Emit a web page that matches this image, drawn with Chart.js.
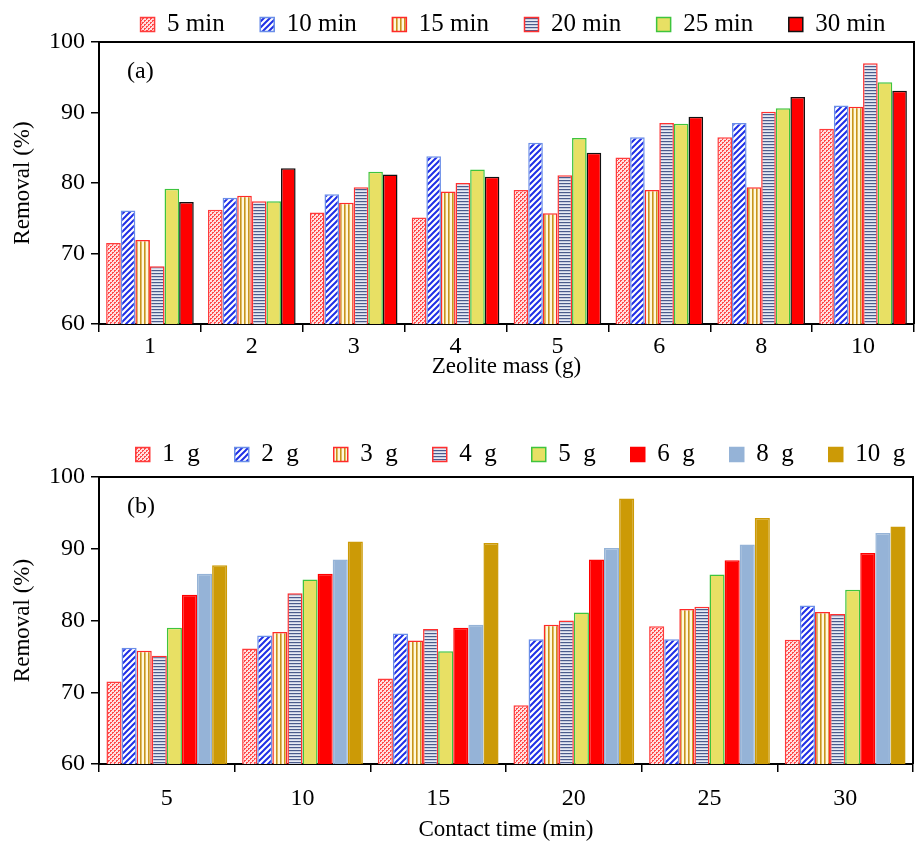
<!DOCTYPE html>
<html>
<head>
<meta charset="utf-8">
<script src="https://cdn.jsdelivr.net/npm/chart.js@4.4.1/dist/chart.umd.min.js"></script>
<style>
  html, body { margin: 0; padding: 0; background: #fff; }
  body { width: 917px; height: 845px; position: relative; overflow: hidden; }
  canvas { position: absolute; left: 0; }
  #ca { top: 0; }
  #cb { top: 420px; }
</style>
</head>
<body>
<canvas id="ca" width="917" height="386"></canvas>
<canvas id="cb" width="917" height="425"></canvas>
<script>
// ---- Data (Removal %) ----
const masses = ['1', '2', '3', '4', '5', '6', '8', '10'];          // zeolite mass (g)
const times  = ['5', '10', '15', '20', '25', '30'];                 // contact time (min)
const timeLabels = ['5 min', '10 min', '15 min', '20 min', '25 min', '30 min'];
const massLabels = ['1  g', '2  g', '3  g', '4  g', '5  g', '6  g', '8  g', '10  g'];
const yTicks = [60, 70, 80, 90, 100];

const r5min  = [71.5, 76.2, 75.8, 75.1, 79.0, 83.6, 86.5, 87.7];
const r10min = [76.1, 77.9, 78.4, 83.8, 85.7, 86.5, 88.5, 91.0];
const r15min = [71.9, 78.2, 77.2, 78.8, 75.7, 79.0, 79.4, 90.8];
const r20min = [68.2, 77.4, 79.4, 80.0, 81.1, 88.5, 90.1, 97.0];
const r25min = [79.2, 77.4, 81.6, 81.9, 86.4, 88.4, 90.6, 94.3];
const r30min = [77.3, 82.1, 81.2, 80.9, 84.3, 89.4, 92.2, 93.1];

const byTime = [r5min, r10min, r15min, r20min, r25min, r30min];
// panel (b): the same measurements grouped by contact time
const byMass = masses.map((m, i) => byTime.map(row => row[i]));

// ---- Fills ----
const FONT = '"Liberation Serif", "Times New Roman", serif';
function mkPattern(w, h, draw) {
  const c = document.createElement('canvas');
  c.width = w; c.height = h;
  const g = c.getContext('2d');
  draw(g);
  return g.createPattern(c, 'repeat');
}
const pDots = mkPattern(4, 4, g => {
  g.fillStyle = '#ffe0e0'; g.fillRect(0, 0, 4, 4);
  g.fillStyle = '#ff4a4a';
  g.fillRect(0, 0, 2, 1); g.fillRect(0, 1, 1, 1);
  g.fillRect(2, 2, 2, 1); g.fillRect(2, 3, 1, 1);
});
const pDiag = mkPattern(6, 6, g => {
  g.fillStyle = '#ffffff'; g.fillRect(0, 0, 6, 6);
  g.strokeStyle = '#1f2fe6'; g.lineWidth = 2;
  g.beginPath();
  g.moveTo(-1, 7); g.lineTo(7, -1);
  g.moveTo(-1, 1); g.lineTo(1, -1);
  g.moveTo(5, 7); g.lineTo(7, 5);
  g.stroke();
});
const pVert = mkPattern(4, 4, g => {
  g.fillStyle = '#fff8dc'; g.fillRect(0, 0, 4, 4);
  g.fillStyle = '#c8941c'; g.fillRect(0, 0, 1.6, 4);
});
const pHorz = mkPattern(4, 3, g => {
  g.fillStyle = '#e6eaf4'; g.fillRect(0, 0, 4, 3);
  g.fillStyle = '#4a5b8c'; g.fillRect(0, 0, 4, 1.2);
});

const timeStyles = [
  { bg: pDots, bc: '#ff3b3b' },
  { bg: pDiag, bc: '#6a8ee8' },
  { bg: pVert, bc: '#ff2a2a' },
  { bg: pHorz, bc: '#ff3030' },
  { bg: '#e8e064', bc: '#3ec43e' },
  { bg: '#ff0000', bc: '#111111' }
];
const massStyles = [
  { bg: pDots, bc: '#ff3b3b' },
  { bg: pDiag, bc: '#6a8ee8' },
  { bg: pVert, bc: '#ff2a2a' },
  { bg: pHorz, bc: '#ff3030' },
  { bg: '#e8e064', bc: '#3ec43e' },
  { bg: '#ff0000', bc: '#ff0000' },
  { bg: '#95b3d7', bc: '#95b3d7' },
  { bg: '#cc9a06', bc: '#cc9a06' }
];

// frame + panel letter + legend placement
const framePlugin = {
  id: 'frame',
  afterLayout(chart, args, opts) {
    const lg = chart.legend;
    if (lg) {
      lg.left += opts.dx; lg.right += opts.dx;
      lg.top += opts.dy; lg.bottom += opts.dy;
    }
  },
  afterDraw(chart, args, opts) {
    const a = chart.chartArea, ctx = chart.ctx;
    ctx.save();
    ctx.strokeStyle = '#000'; ctx.lineWidth = 2;
    ctx.beginPath();
    ctx.moveTo(a.left, a.top); ctx.lineTo(a.right, a.top); ctx.lineTo(a.right, a.bottom);
    ctx.stroke();
    ctx.fillStyle = '#000';
    ctx.font = '24px ' + FONT;
    ctx.textBaseline = 'middle';
    ctx.fillText(opts.letter, a.left + 28, a.top + 30);
    ctx.restore();
  }
};

function makeChart(id, cats, labels, series, styles, cfg) {
  const datasets = series.map((d, i) => ({
    label: labels[i],
    data: d,
    backgroundColor: styles[i].bg,
    borderColor: styles[i].bc,
    borderWidth: 1.5,
    borderSkipped: 'bottom',
    categoryPercentage: cfg.catPct,
    barPercentage: 1.0
  }));
  return new Chart(document.getElementById(id), {
    type: 'bar',
    data: { labels: cats, datasets },
    plugins: [framePlugin],
    options: {
      responsive: false,
      animation: false,
      layout: { padding: { top: cfg.padTop, right: cfg.padRight, left: 0, bottom: 0 } },
      plugins: {
        frame: { letter: cfg.letter, dx: cfg.legDx, dy: cfg.legDy },
        tooltip: { enabled: false },
        legend: {
          position: 'top',
          labels: {
            color: '#000',
            font: { family: FONT, size: 25 },
            boxWidth: 14, boxHeight: 14,
            padding: cfg.legendPad
          }
        }
      },
      scales: {
        x: {
          offset: true,
          grid: { offset: true, drawOnChartArea: false, drawTicks: true, tickLength: 8, color: '#000', lineWidth: 1.5 },
          border: { display: true, color: '#000', width: 2 },
          ticks: { color: '#000', font: { family: FONT, size: 24 }, padding: cfg.xTickPad, maxRotation: 0 },
          title: { display: true, text: cfg.xTitle, color: '#000', font: { family: FONT, size: 23 }, padding: { top: 0, bottom: cfg.xTitlePad } },
          afterFit(s) { s.height = cfg.xHeight; }
        },
        y: {
          min: 60, max: 100,
          afterBuildTicks(s) { s.ticks = yTicks.map(v => ({ value: v })); },
          grid: { drawOnChartArea: false, drawTicks: true, tickLength: 8, color: '#000', lineWidth: 1.5 },
          border: { display: true, color: '#000', width: 2 },
          ticks: { color: '#000', font: { family: FONT, size: 24 }, padding: 6 },
          title: { display: true, text: 'Removal (%)', color: '#000', font: { family: FONT, size: 23 }, padding: { top: 9, bottom: 0 } },
          afterFit(s) { s.width = 99; }
        }
      }
    }
  });
}

makeChart('ca', masses, timeLabels, byTime, timeStyles, {
  catPct: 0.86, padTop: -28.5, padRight: 3, legendPad: 35.5, letter: '(a)',
  legDx: 56, legDy: 5,
  xTitle: 'Zeolite mass (g)', xTickPad: 0, xTitlePad: 5, xHeight: 62
});
makeChart('cb', times, massLabels, byMass, massStyles, {
  catPct: 0.89, padTop: -13, padRight: 4, legendPad: 35, letter: '(b)',
  legDx: 64, legDy: 0,
  xTitle: 'Contact time (min)', xTickPad: 12, xTitlePad: 1, xHeight: 81
});
</script>
</body>
</html>
